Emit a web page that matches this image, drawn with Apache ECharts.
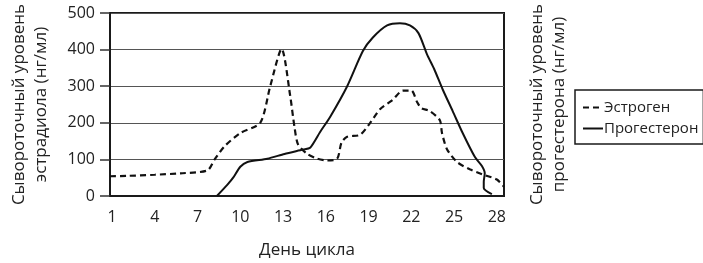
<!DOCTYPE html>
<html>
<head>
<meta charset="utf-8">
<script src="https://cdn.jsdelivr.net/npm/echarts@6/dist/echarts.min.js"></script>
<style>html,body{margin:0;padding:0;background:#fff}#c{width:703px;height:263px}</style>
</head>
<body>
<div id="c"></div>
<script>
const xTickLabels = [1, 4, 7, 10, 13, 16, 19, 22, 25, 28];
const seriesNames = ['Эстроген', 'Прогестерон'];
const estrogen = [
  [0.86,54],[2,55],[4,58],[5.8,62],[7.7,70],[8.2,100],[8.9,136],[10,172],[11.4,200],
  [12.1,300],[12.9,402],[13.5,274],[13.8,189],[14.05,141],[14.7,115],[15.4,102],[16.1,97],
  [16.8,102],[17.1,146],[17.5,162],[18.4,167],[19.1,199],[19.8,237],[20.7,263],[21.4,288],
  [22,288],[22.4,257],[22.7,240],[23.3,232],[24,207],[24.15,172],[24.5,128],[25.2,93],
  [26.1,73],[27,59],[28,45],[28.5,25]
];
const progesterone = [
  [8.36,0],[9.1,31],[9.5,50],[10,80],[10.5,93],[11.9,102],[13.1,115],[14.4,127],[14.9,132],
  [15.6,175],[16.3,216],[17.5,300],[18.6,396],[19.3,433],[20.3,466],[21.2,472],[21.9,466],
  [22.5,445],[23.1,387],[23.6,347],[24.2,291],[24.9,232],[25.6,172],[26.45,107],[26.95,82],
  [27.15,62],[27.08,39],[27.08,22],[27.65,5]
];
const leftTitle = 'Сывороточный уровень\nэстрадиола (нг/мл)';
const rightTitle = 'Сывороточный уровень\nпрогестерона (нг/мл)';
const xTitle = 'День цикла';

const FONT = 'Open Sans';
const TXT = '#222';
const chart = echarts.init(document.getElementById('c'), null, {renderer: 'canvas'});
chart.setOption({
  animation: false,
  backgroundColor: '#fff',
  textStyle: {fontFamily: FONT, color: TXT},
  grid: {left: 110, right: 199, top: 13, bottom: 67, show: true, borderColor: '#1a1a1a', borderWidth: 2, containLabel: false, outerBoundsMode: 'none'},
  legend: {
    orient: 'vertical', left: 575, top: 90,
    data: seriesNames,
    itemWidth: 20, itemHeight: 14, itemGap: 6,
    padding: [10, 5, 8, 7],
    borderColor: '#1a1a1a', borderWidth: 1.5,
    itemStyle: {color: 'rgba(0,0,0,0)', borderWidth: 0, opacity: 0},
    textStyle: {fontFamily: FONT, fontSize: 15, color: TXT, padding: [0,0,0,-4]}
  },
  xAxis: {
    type: 'value', min: 0.86, max: 28.5,
    name: xTitle, nameLocation: 'middle', nameGap: 46,
    nameTextStyle: {fontFamily: FONT, fontSize: 17, color: TXT},
    axisLine: {show: true, lineStyle: {color: '#1a1a1a', width: 2}},
    axisTick: {show: false},
    splitLine: {show: false},
    axisLabel: {customValues: xTickLabels, fontFamily: FONT, fontSize: 16, color: TXT, margin: 13}
  },
  yAxis: [{
    type: 'value', min: 0, max: 500, interval: 100,
    name: leftTitle, nameLocation: 'middle', nameGap: 58, nameRotate: 90,
    nameTextStyle: {fontFamily: FONT, fontSize: 17, color: TXT, lineHeight: 22},
    axisLine: {show: true, lineStyle: {color: '#1a1a1a', width: 2}},
    axisTick: {show: true, inside: false, length: 10, lineStyle: {color: '#333', width: 1.5}},
    splitLine: {show: true, lineStyle: {color: '#555', width: 1.2}},
    axisLabel: {fontFamily: FONT, fontSize: 16, color: TXT, margin: 15}
  }, {
    type: 'value', min: 0, max: 500, interval: 100, position: 'right',
    name: rightTitle, nameLocation: 'middle', nameGap: 22, nameRotate: 90,
    nameTextStyle: {fontFamily: FONT, fontSize: 17, color: TXT, lineHeight: 22},
    axisLine: {show: false}, axisTick: {show: false}, axisLabel: {show: false}, splitLine: {show: false}
  }],
  series: [{
    name: seriesNames[0], type: 'line', data: estrogen, yAxisIndex: 0,
    smooth: 0.25, symbol: 'none', showSymbol: false,
    lineStyle: {color: '#111', width: 2.2, type: [6, 4]},
    itemStyle: {color: '#111'}
  }, {
    name: seriesNames[1], type: 'line', data: progesterone, yAxisIndex: 1,
    smooth: 0.25, symbol: 'none', showSymbol: false,
    lineStyle: {color: '#111', width: 2},
    itemStyle: {color: '#111'}
  }]
});
</script>
</body>
</html>
